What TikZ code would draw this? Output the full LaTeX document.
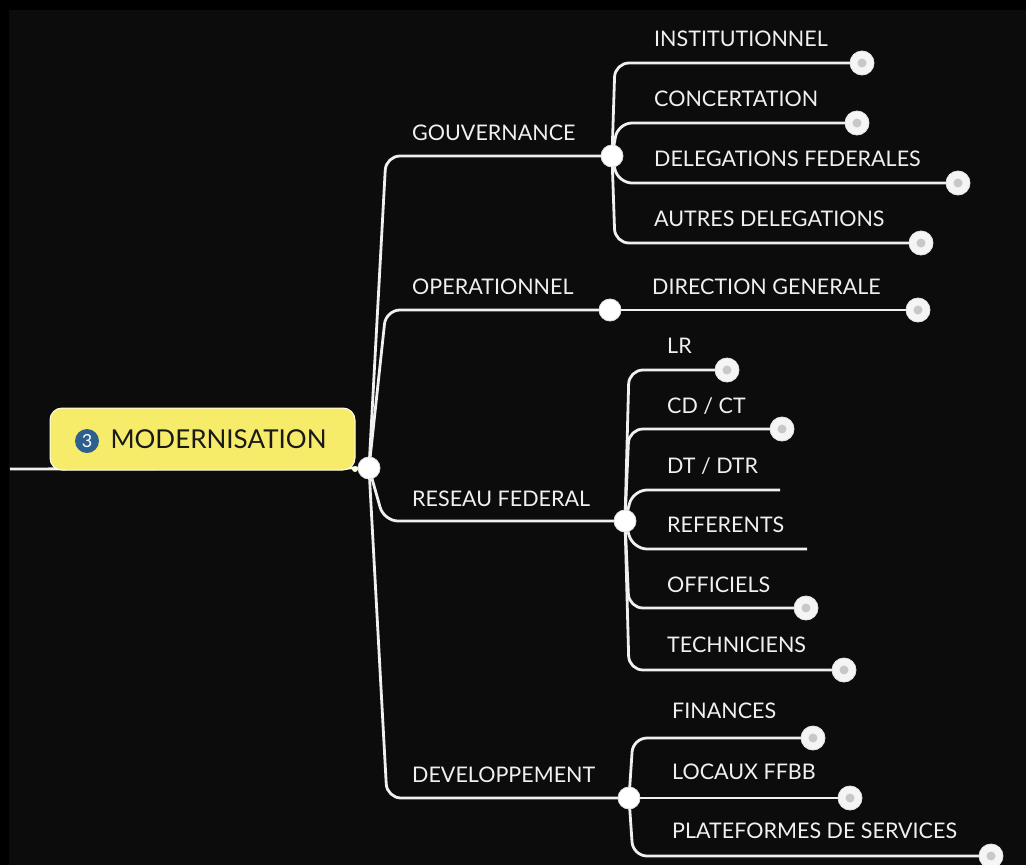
\documentclass[tikz,border=0pt]{standalone}
\usepackage{fontspec}
\setmainfont{Lato}
\usetikzlibrary{backgrounds}
\definecolor{bgdark}{HTML}{0C0C0C}
\definecolor{mapline}{HTML}{F0F0F0}
\definecolor{rootyellow}{HTML}{F6EC6A}
\definecolor{badgeblue}{HTML}{2F5F8E}
\definecolor{tipgray}{HTML}{C8C8C8}
\begin{document}
\begin{tikzpicture}[x=1pt,y=-1pt,
	branch/.style={draw=mapline,line width=2.8pt,rounded corners=14pt},
	hub/.style={circle,fill=white,draw=white!88!black,line width=0.8pt,minimum size=22pt,inner sep=0pt},
	tip/.style={circle,fill=white!96!black,draw=white!90!black,line width=0.8pt,minimum size=24pt,inner sep=0pt,
		path picture={\fill[tipgray] (path picture bounding box.center) circle (4.5pt);}},
	lab/.style={anchor=base west,inner sep=0pt,text=white!94!black,font=\fontsize{21.5}{25}\selectfont},
	rootbox/.style={rectangle,rounded corners=12pt,fill=rootyellow,draw=white!92!yellow,line width=1pt,
		minimum width=305pt,minimum height=62pt,inner sep=0pt,text=black!90,font=\fontsize{26}{30}\selectfont},
	badge/.style={circle,fill=badgeblue,minimum size=24pt,inner sep=0pt,text=white,font=\fontsize{18}{20}\selectfont}]
	\useasboundingbox (0,0) rectangle (1026,865);
	\clip (0,0) rectangle (1026,865);
	\node[rootbox] (root) at (202.5,439) {\hspace*{32pt}MODERNISATION};
	\node[badge] (num) at (87,441) {3};
	\node[circle,fill=white!85!yellow,minimum size=6pt,inner sep=0pt] (port) at (355,469) {};
	\node[hub] (root-hub) at (369,468) {};
	\coordinate (inlet) at (10,469);
	\node[hub] (gouv-hub) at (612,156) {};
	\node[hub] (oper-hub) at (610,310) {};
	\node[hub] (res-hub) at (625,521) {};
	\node[hub] (dev-hub) at (629,798) {};
	\coordinate (c-gouv) at (386,156);
	\coordinate (c-oper) at (386,310);
	\coordinate (c-res) at (384,521);
	\coordinate (c-dev) at (387,798);
	\node[lab] (gouv) at (412,140) {GOUVERNANCE};
	\node[lab] (oper) at (412,294) {OPERATIONNEL};
	\node[lab] (res) at (412,506) {RESEAU FEDERAL};
	\node[lab] (dev) at (412,782) {DEVELOPPEMENT};
	\node[tip] (inst) at (862,63) {};
	\node[tip] (conc) at (857,123) {};
	\node[tip] (deleg) at (958,183) {};
	\node[tip] (autres) at (921,243) {};
	\node[tip] (dirgen) at (918,310) {};
	\node[tip] (lr) at (727,370) {};
	\node[tip] (cdct) at (782,429) {};
	\coordinate (dtdtr) at (780,490);
	\coordinate (refer) at (807,549);
	\node[tip] (offic) at (806,608) {};
	\node[tip] (techn) at (844,670) {};
	\node[tip] (fin) at (813,738) {};
	\node[tip] (locaux) at (850,798) {};
	\node[tip] (plat) at (991,856) {};
	\coordinate (c-inst) at (615,63);
	\coordinate (c-conc) at (618,123);
	\coordinate (c-deleg) at (618,183);
	\coordinate (c-autres) at (615,243);
	\coordinate (c-lr) at (629,370);
	\coordinate (c-cdct) at (629,429);
	\coordinate (c-dtdtr) at (633,490);
	\coordinate (c-refer) at (633,549);
	\coordinate (c-offic) at (629,608);
	\coordinate (c-techn) at (629,670);
	\coordinate (c-fin) at (633,738);
	\coordinate (c-plat) at (633,856);
	\node[lab] at (654,46) {INSTITUTIONNEL};
	\node[lab] at (654,106) {CONCERTATION};
	\node[lab] at (654,166) {DELEGATIONS FEDERALES};
	\node[lab] at (654,226) {AUTRES DELEGATIONS};
	\node[lab] at (652,294) {DIRECTION GENERALE};
	\node[lab] at (667,353) {LR};
	\node[lab] at (667,413) {CD / CT};
	\node[lab] at (667,473) {DT / DTR};
	\node[lab] at (667,532) {REFERENTS};
	\node[lab] at (667,592) {OFFICIELS};
	\node[lab] at (667,652) {TECHNICIENS};
	\node[lab] at (672,718) {FINANCES};
	\node[lab] at (672,779) {LOCAUX FFBB};
	\node[lab] at (672,838) {PLATEFORMES DE SERVICES};
	\begin{scope}[on background layer]
		\fill[black] (0,0) rectangle (1026,865);
		\fill[bgdark] (9,10) rectangle (1026,865);
		\draw[branch] (inlet) -- (root-hub.center);
		\draw[branch] (root-hub.center) -- (c-gouv) -- (gouv-hub.center);
		\draw[branch] (root-hub.center) -- (c-oper) -- (oper-hub.center);
		\draw[branch] (root-hub.center) -- (c-res) -- (res-hub.center);
		\draw[branch] (root-hub.center) -- (c-dev) -- (dev-hub.center);
		\draw[branch] (gouv-hub.center) -- (c-inst) -- (inst.center);
		\draw[branch] (gouv-hub.center) -- (c-conc) -- (conc.center);
		\draw[branch] (gouv-hub.center) -- (c-deleg) -- (deleg.center);
		\draw[branch] (gouv-hub.center) -- (c-autres) -- (autres.center);
		\draw[branch] (oper-hub.center) -- (dirgen.center);
		\draw[branch] (res-hub.center) -- (c-lr) -- (lr.center);
		\draw[branch] (res-hub.center) -- (c-cdct) -- (cdct.center);
		\draw[branch] (res-hub.center) -- (c-dtdtr) -- (dtdtr);
		\draw[branch] (res-hub.center) -- (c-refer) -- (refer);
		\draw[branch] (res-hub.center) -- (c-offic) -- (offic.center);
		\draw[branch] (res-hub.center) -- (c-techn) -- (techn.center);
		\draw[branch] (dev-hub.center) -- (c-fin) -- (fin.center);
		\draw[branch] (dev-hub.center) -- (locaux.center);
		\draw[branch] (dev-hub.center) -- (c-plat) -- (plat.center);
	\end{scope}
\end{tikzpicture}
\end{document}
